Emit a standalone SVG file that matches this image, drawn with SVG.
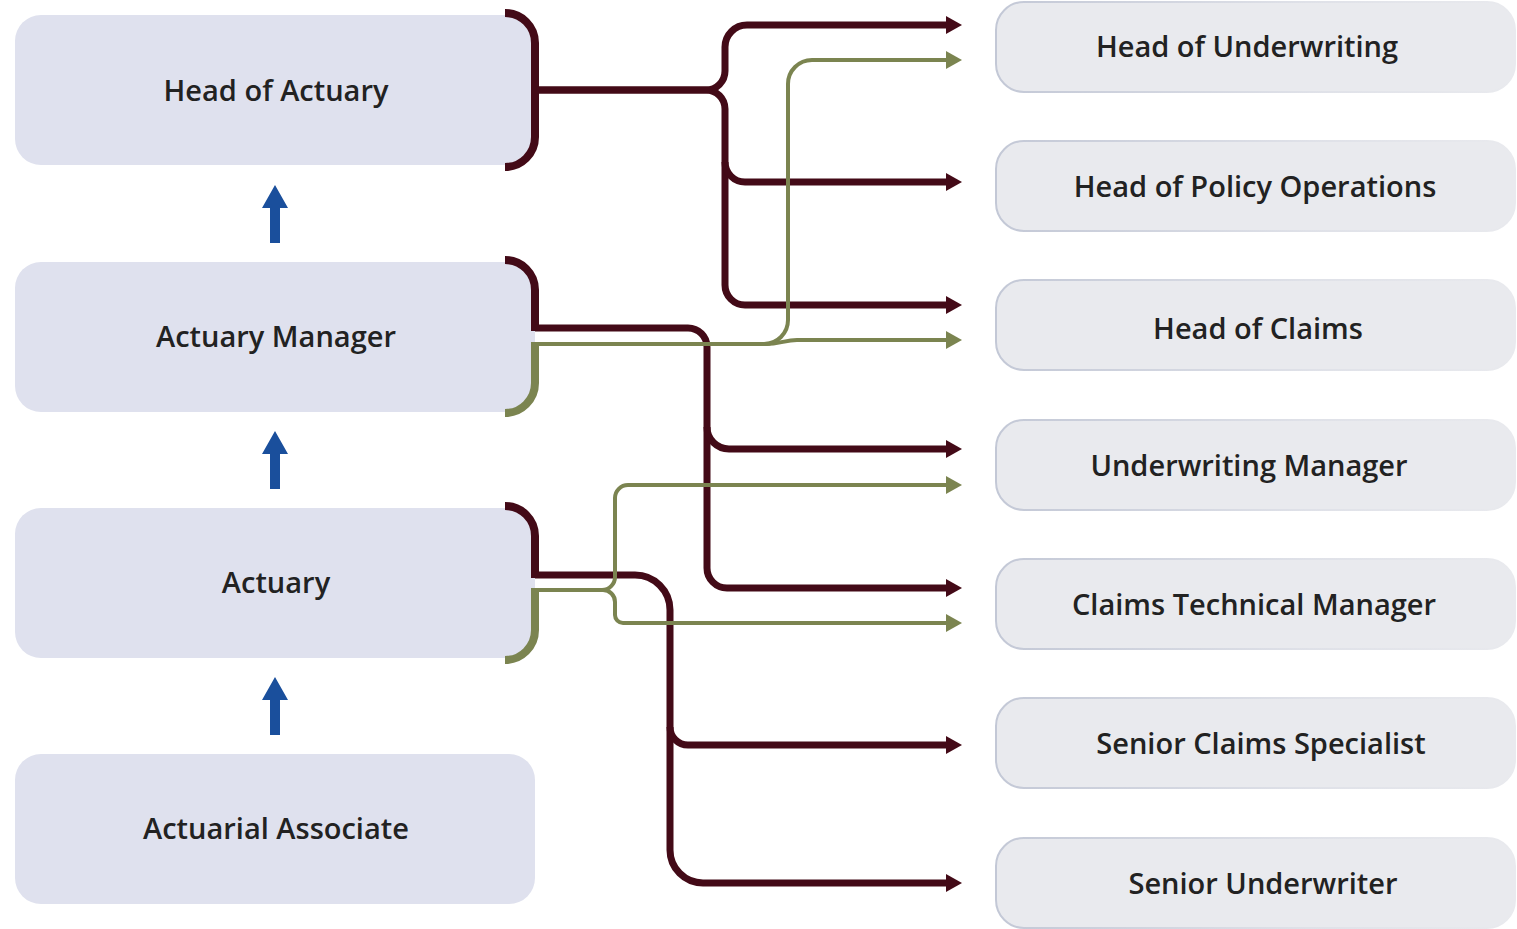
<svg xmlns="http://www.w3.org/2000/svg" width="1517" height="929" viewBox="0 0 1517 929">
<defs>
<linearGradient id="rs" x1="0" y1="0" x2="1" y2="0">
<stop offset="0" stop-color="#c3c8d6"/>
<stop offset="0.6" stop-color="#dfe1e8"/>
<stop offset="1" stop-color="#e9eaee"/>
</linearGradient>
<marker id="am" markerUnits="userSpaceOnUse" markerWidth="16" markerHeight="18" viewBox="0 0 16 18" refX="0" refY="9" orient="auto">
<path d="M0,0 L16,9 L0,18 z" fill="#430a17"/>
</marker>
<marker id="ao" markerUnits="userSpaceOnUse" markerWidth="16" markerHeight="18" viewBox="0 0 16 18" refX="0" refY="9" orient="auto">
<path d="M0,0 L16,9 L0,18 z" fill="#7b8450"/>
</marker>
</defs>
<style>
.ln{fill:#dfe1ee}
.rn{fill:#e9eaee;stroke:url(#rs);stroke-width:2}
.t{font-family:"Open Sans","Noto Sans",sans-serif;font-size:29px;font-weight:600;fill:#222;text-anchor:middle;dominant-baseline:central}
.m{fill:none;stroke:#430a17;stroke-width:7}
.ma{fill:none;stroke:#430a17;stroke-width:7;marker-end:url(#am)}
.mb{fill:none;stroke:#430a17;stroke-width:8}
.o{fill:none;stroke:#7b8450;stroke-width:4}
.oa{fill:none;stroke:#7b8450;stroke-width:4;marker-end:url(#ao)}
.ob{fill:none;stroke:#7b8450;stroke-width:8}
.up{fill:#1a4f9c}
</style>
<g id="head-of-actuary"><rect class="ln" x="15" y="15" width="520" height="150" rx="26"/><text class="t" x="276" y="89">Head of Actuary</text></g>
<g id="actuary-manager"><rect class="ln" x="15" y="262" width="520" height="150" rx="26"/><text class="t" x="276" y="335">Actuary Manager</text></g>
<g id="actuary"><rect class="ln" x="15" y="508" width="520" height="150" rx="26"/><text class="t" x="276" y="581">Actuary</text></g>
<g id="actuarial-associate"><rect class="ln" x="15" y="754" width="520" height="150" rx="26"/><text class="t" x="276" y="827">Actuarial Associate</text></g>
<g id="head-of-underwriting"><rect class="rn" x="996" y="2" width="519" height="90" rx="28"/><text class="t" x="1247" y="45">Head of Underwriting</text></g>
<g id="head-of-policy-operations"><rect class="rn" x="996" y="141" width="519" height="90" rx="28"/><text class="t" x="1255" y="185">Head of Policy Operations</text></g>
<g id="head-of-claims"><rect class="rn" x="996" y="280" width="519" height="90" rx="28"/><text class="t" x="1258" y="327">Head of Claims</text></g>
<g id="underwriting-manager"><rect class="rn" x="996" y="420" width="519" height="90" rx="28"/><text class="t" x="1249" y="464">Underwriting Manager</text></g>
<g id="claims-technical-manager"><rect class="rn" x="996" y="559" width="519" height="90" rx="28"/><text class="t" x="1254" y="603">Claims Technical Manager</text></g>
<g id="senior-claims-specialist"><rect class="rn" x="996" y="698" width="519" height="90" rx="28"/><text class="t" x="1261" y="742">Senior Claims Specialist</text></g>
<g id="senior-underwriter"><rect class="rn" x="996" y="838" width="519" height="90" rx="28"/><text class="t" x="1263" y="882">Senior Underwriter</text></g>
<g id="connectors">
<g id="promotions">
<path class="up" d="M262,208 L275,185 L288,208 Z M270,207 H280 V243 H270 Z"/>
<path class="up" d="M262,454 L275,431 L288,454 Z M270,453 H280 V489 H270 Z"/>
<path class="up" d="M262,700 L275,677 L288,700 Z M270,699 H280 V735 H270 Z"/>
</g>
<path class="mb" d="M505,13 A30,30 0 0 1 535,43 V137 A30,30 0 0 1 505,167"/>
<path class="ma" d="M535,90 H706 A19,19 0 0 0 725,71 V47 A22,22 0 0 1 747,25 H946"/>
<path class="ma" d="M535,90 H706 A19,19 0 0 1 725,109 V285 A20,20 0 0 0 745,305 H946"/>
<path class="ma" d="M725,162 A20,20 0 0 0 745,182 H946"/>
<path class="mb" d="M505,260 A30,30 0 0 1 535,290 V331"/>
<path class="ma" d="M535,328 H688 A19,19 0 0 1 707,347 V568 A20,20 0 0 0 727,588 H946"/>
<path class="ma" d="M707,427 A22,22 0 0 0 729,449 H946"/>
<path class="mb" d="M505,506 A30,30 0 0 1 535,536 V578"/>
<path class="ma" d="M535,575 H635 A35,35 0 0 1 670,610 V850 A33,33 0 0 0 703,883 H946"/>
<path class="ma" d="M670,727 A18,18 0 0 0 688,745 H946"/>
<path class="ob" d="M535,342 V383 A30,30 0 0 1 505,413"/>
<path class="oa" d="M535,344 H764 A24,24 0 0 0 788,320 V84 A24,24 0 0 1 812,60 H946"/>
<path class="oa" d="M535,344 H765 C780,344 785,340 797,340 H946"/>
<path class="ob" d="M535,588 V630 A30,30 0 0 1 505,660"/>
<path class="oa" d="M535,590 H602 A13,13 0 0 0 615,577 V498 A13,13 0 0 1 628,485 H946"/>
<path class="oa" d="M535,590 H603 A12,12 0 0 1 615,602 V615 A8,8 0 0 0 623,623 H946"/>
</g>
</svg>
